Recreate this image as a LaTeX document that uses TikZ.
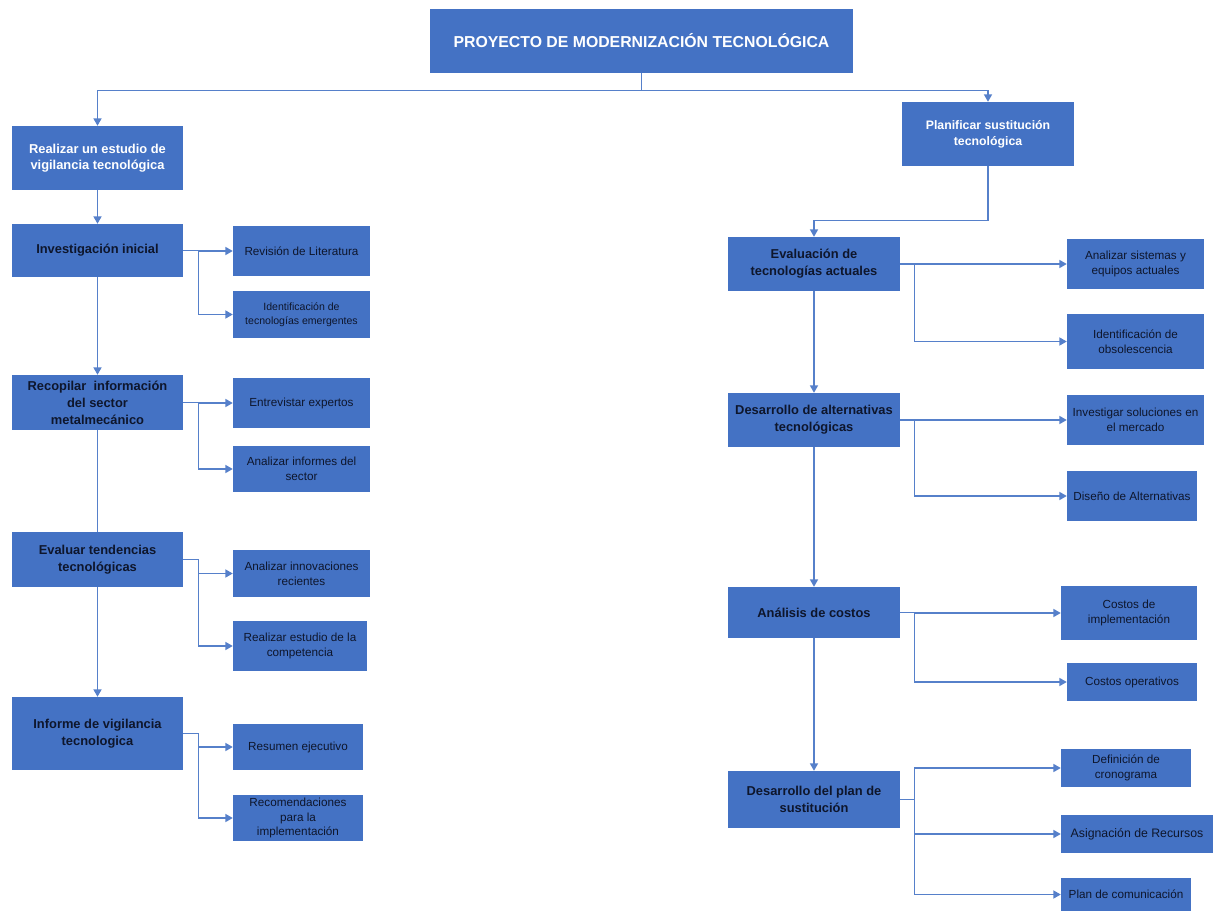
\documentclass[tikz,border=0pt]{standalone}
\usepackage{fontspec}
\setmainfont{Liberation Sans}
\usepackage{tikz}
\usetikzlibrary{arrows.meta,positioning,calc}
\definecolor{boxblue}{RGB}{68,114,196}
\definecolor{wire}{RGB}{86,128,202}
\definecolor{ink}{RGB}{14,22,44}
\tikzset{
  head/.style={fill=boxblue, text=white, font=\fontsize{11}{14}\selectfont\bfseries,
              align=center, inner sep=2pt},
  task/.style={fill=boxblue, text=ink, font=\fontsize{11}{14.5}\selectfont\bfseries,
              align=center, inner sep=2pt},
  leaf/.style={fill=boxblue, text=ink, font=\fontsize{10}{12.5}\selectfont,
              align=center, inner sep=2pt},
  link/.style={wire, line width=1.2pt},
  feed/.style={link, -{Triangle[length=2.2mm,width=2.4mm]}},
}

\begin{document}
\begin{tikzpicture}
    \useasboundingbox (0,0) rectangle (36.39,-27.33);
    % title and the two first branches
    \node[head,minimum width=12.69cm,minimum height=1.92cm,font=\fontsize{13.5}{16}\selectfont\bfseries] (proy) at (19.245,-1.23) {PROYECTO DE MODERNIZACIÓN TECNOLÓGICA};
    \node[head,minimum width=5.13cm,minimum height=1.92cm] (vig) at (2.925,-4.74) {Realizar un estudio de\\vigilancia tecnológica};
    \node[head,minimum width=5.16cm,minimum height=1.92cm,font=\fontsize{10.5}{14}\selectfont\bfseries] (sus) at (29.64,-4.02) {Planificar sustitución\\tecnológica};
    \draw[feed] (proy.south) -- ++(0,-0.51) -| (vig.north);
    \draw[feed] (proy.south) -- ++(0,-0.51) -| (sus.north);

    % left column
    \node[task,minimum width=5.13cm,minimum height=1.59cm] (inv) at (2.925,-7.515) {Investigación inicial};
    \node[task,minimum width=5.13cm,minimum height=1.65cm] (reco) at (2.925,-12.075) {Recopilar\ \ información\\del sector\\metalmecánico};
    \node[task,minimum width=5.13cm,minimum height=1.65cm] (tend) at (2.925,-16.785) {Evaluar tendencias\\tecnológicas};
    \node[task,minimum width=5.13cm,minimum height=2.19cm] (info) at (2.925,-22.005) {Informe de vigilancia\\tecnologica};
    \draw[feed] (vig.south) -- (inv.north);
    \draw[feed] (inv.south) -- (reco.north);
    \draw[link] (reco.south) -- (tend.north);
    \draw[feed] (tend.south) -- (info.north);

    \node[leaf,minimum width=4.11cm,minimum height=1.5cm] (lit) at (9.045,-7.53) {Revisión de Literatura};
    \node[leaf,minimum width=4.11cm,minimum height=1.41cm,font=\fontsize{9}{11.5}\selectfont] (emer) at (9.045,-9.435) {Identificación de\\tecnologías emergentes};
    \node[leaf,minimum width=4.11cm,minimum height=1.5cm] (expe) at (9.045,-12.09) {Entrevistar expertos};
    \node[leaf,minimum width=4.11cm,minimum height=1.38cm] (sect) at (9.045,-14.07) {Analizar informes del\\sector};
    \node[leaf,minimum width=4.11cm,minimum height=1.41cm] (inno) at (9.045,-17.205) {Analizar innovaciones\\recientes};
    \node[leaf,minimum width=4.02cm,minimum height=1.5cm] (comp) at (9.0,-19.38) {Realizar estudio de la\\competencia};
    \node[leaf,minimum width=3.9cm,minimum height=1.38cm] (resu) at (8.94,-22.41) {Resumen ejecutivo};
    \node[leaf,minimum width=3.9cm,minimum height=1.38cm] (reco2) at (8.94,-24.54) {Recomendaciones\\para la\\implementación};
    \draw[feed] (inv.east) -- ++(0.45,0) |- (lit.west);
    \draw[feed] (inv.east) -- ++(0.45,0) |- (emer.west);
    \draw[feed] (reco.east) -- ++(0.45,0) |- (expe.west);
    \draw[feed] (reco.east) -- ++(0.45,0) |- (sect.west);
    \draw[feed] (tend.east) -- ++(0.45,0) |- (inno.west);
    \draw[feed] (tend.east) -- ++(0.45,0) |- (comp.west);
    \draw[feed] (info.east) -- ++(0.45,0) |- (resu.west);
    \draw[feed] (info.east) -- ++(0.45,0) |- (reco2.west);

    % right column
    \node[task,minimum width=5.16cm,minimum height=1.62cm] (eval) at (24.42,-7.92) {Evaluación de\\tecnologías actuales};
    \node[task,minimum width=5.16cm,minimum height=1.62cm] (alte) at (24.42,-12.6) {Desarrollo de alternativas\\tecnológicas};
    \node[task,minimum width=5.16cm,minimum height=1.53cm] (cost) at (24.42,-18.375) {Análisis de costos};
    \node[task,minimum width=5.16cm,minimum height=1.71cm] (plan) at (24.42,-23.985) {Desarrollo del plan de\\sustitución};
    \draw[feed] (sus.south) -- ++(0,-1.62) -| (eval.north);
    \draw[feed] (eval.south) -- (alte.north);
    \draw[feed] (alte.south) -- (cost.north);
    \draw[feed] (cost.south) -- (plan.north);

    \node[leaf,minimum width=4.11cm,minimum height=1.5cm] (equi) at (34.065,-7.92) {Analizar sistemas y\\equipos actuales};
    \node[leaf,minimum width=4.11cm,minimum height=1.65cm] (obso) at (34.065,-10.245) {Identificación de\\obsolescencia};
    \node[leaf,minimum width=4.11cm,minimum height=1.5cm] (merc) at (34.065,-12.6) {Investigar soluciones en\\el mercado};
    \node[leaf,minimum width=3.9cm,minimum height=1.5cm] (dise) at (33.96,-14.88) {Diseño de Alternativas};
    \node[leaf,minimum width=4.08cm,minimum height=1.62cm] (impl) at (33.87,-18.39) {Costos de\\implementación};
    \node[leaf,minimum width=3.9cm,minimum height=1.14cm] (oper) at (33.96,-20.46) {Costos operativos};
    \node[leaf,minimum width=3.9cm,minimum height=1.14cm] (cron) at (33.78,-23.04) {Definición de\\cronograma};
    \node[leaf,minimum width=4.56cm,minimum height=1.14cm,font=\fontsize{10.5}{12.5}\selectfont] (recu) at (34.11,-25.02) {Asignación de Recursos};
    \node[leaf,minimum width=3.9cm,minimum height=0.99cm] (comu) at (33.78,-26.835) {Plan de comunicación};
    \draw[feed] (eval.east) -- ++(0.42,0) |- (equi.west);
    \draw[feed] (eval.east) -- ++(0.42,0) |- (obso.west);
    \draw[feed] (alte.east) -- ++(0.42,0) |- (merc.west);
    \draw[feed] (alte.east) -- ++(0.42,0) |- (dise.west);
    \draw[feed] (cost.east) -- ++(0.42,0) |- (impl.west);
    \draw[feed] (cost.east) -- ++(0.42,0) |- (oper.west);
    \draw[feed] (plan.east) -- ++(0.42,0) |- (cron.west);
    \draw[feed] (plan.east) -- ++(0.42,0) |- (recu.west);
    \draw[feed] (plan.east) -- ++(0.42,0) |- (comu.west);
  \end{tikzpicture}
\end{document}
